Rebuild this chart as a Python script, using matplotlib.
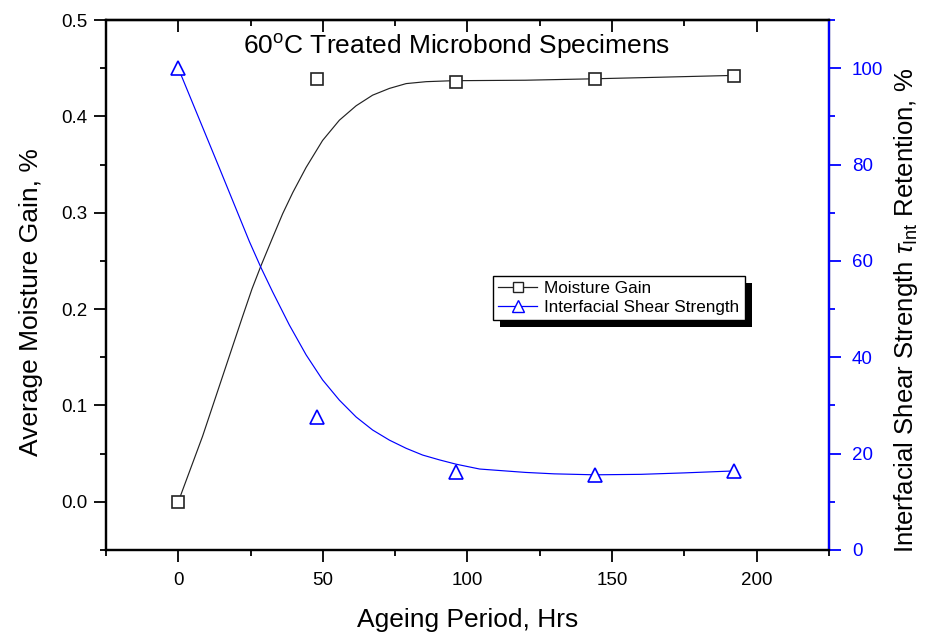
import matplotlib
matplotlib.use("Agg")
import matplotlib.pyplot as plt
from matplotlib.patches import Rectangle
from matplotlib.ticker import MultipleLocator, FormatStrFormatter

plt.rcParams['font.family'] = ['Liberation Sans', 'DejaVu Sans']
plt.rcParams['mathtext.fontset'] = 'custom'
plt.rcParams['mathtext.rm'] = 'Liberation Sans'
plt.rcParams['mathtext.it'] = 'Liberation Sans:italic'

# measured points
hours = [0, 48, 96, 144, 192]
moisture = [0.0, 0.439, 0.436, 0.439, 0.442]
ifss = [100.0, 27.7, 16.2, 15.6, 16.4]

# fitted curves
fit_x_moist = [0, 8.4, 15.3, 22.2, 25.5, 28.6, 32.6, 36.1, 39.6, 44.2, 49.9, 55.7,
               61.5, 67.2, 73.0, 78.8, 85.7, 94.9, 120, 144, 165, 192]
fit_y_moist = [0.0, 0.068, 0.130, 0.192, 0.221, 0.245, 0.274, 0.299, 0.321, 0.347, 0.375, 0.396,
               0.411, 0.422, 0.429, 0.434, 0.436, 0.437, 0.4375, 0.439, 0.4405, 0.4425]
fit_x_ifss = [0, 14.2, 24.6, 28.6, 32.6, 38.4, 44.2, 49.9, 55.7, 61.5, 67.2, 73.0,
              78.8, 84.5, 90.3, 96.1, 104.2, 120, 130, 144, 160, 175, 192]
fit_y_ifss = [100.0, 79.3, 64.0, 58.6, 53.6, 46.7, 40.5, 35.3, 31.1, 27.6, 24.9, 22.8,
              21.1, 19.7, 18.7, 17.8, 16.8, 16.1, 15.8, 15.6, 15.7, 16.0, 16.4]

blue = '#0000ff'

fig = plt.figure(figsize=(9.28, 6.35), dpi=100)
ax = fig.add_axes([0.1142, 0.1339, 0.7791, 0.8346])
ax2 = ax.twinx()

ax.plot(fit_x_moist, fit_y_moist, color='#222222', lw=0.85)
ax.plot(hours, moisture, ls='none', marker='s', ms=8, mfc='white', mec='#222222', mew=1.2)
ax2.plot(fit_x_ifss, fit_y_ifss, color=blue, lw=0.85)
ax2.plot(hours, ifss, ls='none', marker='^', ms=10, mfc='white', mec=blue, mew=1.2)

ax.set_xlim(-25, 225)
ax.set_ylim(-0.05, 0.5)
ax2.set_ylim(0, 110)

ax.xaxis.set_major_locator(MultipleLocator(50))
ax.xaxis.set_minor_locator(MultipleLocator(25))
ax.yaxis.set_major_locator(MultipleLocator(0.1))
ax.yaxis.set_minor_locator(MultipleLocator(0.05))
ax.yaxis.set_major_formatter(FormatStrFormatter('%.1f'))
ax2.yaxis.set_major_locator(MultipleLocator(20))
ax2.yaxis.set_minor_locator(MultipleLocator(10))

for a in (ax, ax2):
    for s in a.spines.values():
        s.set_linewidth(1.6)
ax2.spines['right'].set_color(blue)

ax.tick_params(which='major', direction='out', length=8.5, width=1.3, labelsize=13.5)
ax.tick_params(axis='x', which='major', pad=7)
ax.tick_params(axis='y', which='major', pad=5)
ax.tick_params(which='minor', direction='out', length=4.5, width=1.3)
ax2.tick_params(which='major', direction='out', length=8.5, width=1.3, labelsize=13.5,
                colors=blue, pad=8)
ax2.tick_params(which='minor', direction='out', length=4.5, width=1.3, colors=blue)

top = ax.secondary_xaxis('top')
top.xaxis.set_major_locator(MultipleLocator(50))
top.xaxis.set_minor_locator(MultipleLocator(25))
top.tick_params(which='major', direction='in', length=8.5, width=1.3, labeltop=False)
top.tick_params(which='minor', direction='in', length=4.5, width=1.3)
top.spines['top'].set_linewidth(1.6)

ax.set_xlabel('Ageing Period, Hrs', fontsize=19, labelpad=14)
ax.set_ylabel('Average Moisture Gain, %', fontsize=19, labelpad=13)
ax.yaxis.label.set_y(0.468)
ax2.set_ylabel(r'Interfacial Shear Strength $\tau_{\mathrm{Int}}$ Retention, %', fontsize=18.5,
               labelpad=6)
ax2.yaxis.label.set_y(0.452)

fig.text(0.492, 0.926, r'60$^{\mathrm{o}}$C Treated Microbond Specimens', fontsize=19,
         ha='center', va='center')

h1, = ax.plot([], [], color='#222222', lw=0.9, marker='s', ms=7, mfc='white', mec='#222222')
h2, = ax.plot([], [], color=blue, lw=0.9, marker='^', ms=8, mfc='white', mec=blue)
leg = ax2.legend([h1, h2], ['Moisture Gain', 'Interfacial Shear Strength'],
                 loc='upper left', bbox_to_anchor=(493 / 928, 1 - 276 / 635),
                 bbox_transform=fig.transFigure, fontsize=12.3, frameon=True, fancybox=False,
                 edgecolor='black', framealpha=1, borderpad=0.3, labelspacing=0.2,
                 handlelength=2.3, handletextpad=0.4, borderaxespad=0)
leg.get_frame().set_linewidth(1.0)
leg.set_zorder(10)

# solid black drop shadow behind the legend box
fig.canvas.draw()
bb = leg.get_window_extent().transformed(fig.transFigure.inverted())
ax2.add_artist(Rectangle((bb.x0 + 7 / 928, bb.y0 - 7 / 635), bb.width, bb.height,
                         transform=fig.transFigure, facecolor='black', edgecolor='none',
                         zorder=9))

fig.savefig('out.png', dpi=100)
